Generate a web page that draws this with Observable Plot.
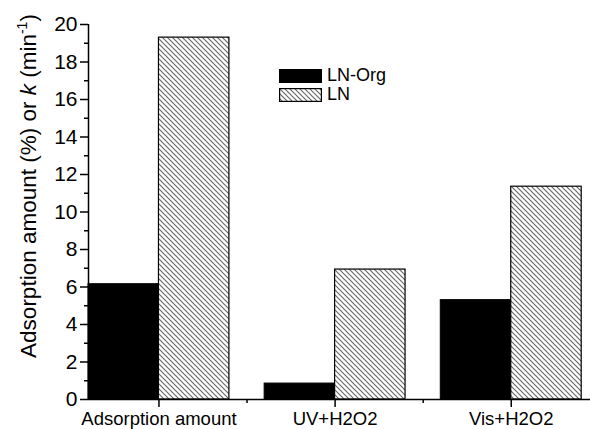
<!DOCTYPE html>
<html>
<head>
<meta charset="utf-8">
<script src="https://cdn.jsdelivr.net/npm/d3@7"></script>
<script src="https://cdn.jsdelivr.net/npm/@observablehq/plot@0.6"></script>
<style>
  body { margin: 0; background: #fff; }
  #chart { position: relative; width: 590px; height: 429px; font-family: Arial, "Liberation Sans", sans-serif; color: #000; }
  #legend { position: absolute; left: 279px; top: 66px; font-size: 18px; line-height: 19px; }
  #legend .row { display: flex; align-items: center; height: 19px; }
  #legend svg { margin-right: 5px; }
</style>
</head>
<body>
<div id="chart"></div>
<script>
// Treatments along the x axis
const categories = ["Adsorption amount", "UV+H2O2", "Vis+H2O2"];
// Series names
const seriesNames = ["LN-Org", "LN"];
// Adsorption amount (%) or rate constant k (min^-1)
const lnOrgValues = [6.15, 0.85, 5.3];
const lnValues = [19.3, 6.93, 11.35];
// Axis ticks
const yMajorTicks = [0, 2, 4, 6, 8, 10, 12, 14, 16, 18, 20];
const yMinorTicks = [1, 3, 5, 7, 9, 11, 13, 15, 17, 19];
const xMajorTicks = [1, 2, 3];
const xMinorTicks = [1.5, 2.5];

const barWidth = 0.4;
const xDomain = [0.6, 3.45];

const rows = categories.map((c, i) => ({
  category: c,
  pos: i + 1,
  lnOrg: lnOrgValues[i],
  ln: lnValues[i]
}));

const chart = Plot.plot({
  width: 590,
  height: 429,
  marginLeft: 88,
  marginRight: 0,
  marginTop: 24,
  marginBottom: 30,
  style: { fontFamily: "Arial, 'Liberation Sans', sans-serif", background: "#fff", color: "#000" },
  x: { type: "linear", domain: xDomain },
  y: { domain: [0, 20] },
  marks: [
    // LN-Org: solid black bars on the left of each group
    Plot.rectY(rows, { x1: d => d.pos - barWidth, x2: d => d.pos, y: "lnOrg", fill: "#000", stroke: "#000", strokeWidth: 1 }),
    // LN: hatched bars on the right of each group
    Plot.rectY(rows, { x1: d => d.pos, x2: d => d.pos + barWidth, y: "ln", fill: "url(#hatch)", stroke: "#000", strokeWidth: 1.2 }),
    // axis lines
    Plot.ruleX([xDomain[0]], { stroke: "#000", strokeWidth: 1.5 }),
    Plot.ruleY([0], { stroke: "#000", strokeWidth: 1.5 }),
    // y axis
    Plot.axisY(yMajorTicks, { tickSize: 8, tickPadding: 3, fontSize: 21, strokeWidth: 1.5, label: null }),
    Plot.axisY(yMinorTicks, { tickSize: 4, strokeWidth: 1.5, tickFormat: () => "", label: null }),
    // x axis
    Plot.axisX(xMajorTicks, { tickSize: 8, tickPadding: 4, fontSize: 18.5, strokeWidth: 1.5, tickFormat: d => categories[d - 1], label: null }),
    Plot.axisX(xMinorTicks, { tickSize: 4, strokeWidth: 1.5, tickFormat: () => "", label: null })
  ]
});

const svg = d3.select(chart);
// diagonal hatch used by the LN bars and its legend swatch
const defs = svg.insert("defs", ":first-child");
defs.append("pattern")
  .attr("id", "hatch")
  .attr("patternUnits", "userSpaceOnUse")
  .attr("width", 5)
  .attr("height", 5)
  .call(p => p.append("rect").attr("width", 5).attr("height", 5).attr("fill", "#fff"))
  .append("path")
  .attr("d", "M-1,-1L6,6M-1,4L1,6M4,-1L6,1")
  .attr("stroke", "#6a6a6a")
  .attr("stroke-width", 1.2);

// y axis title with italic k and superscript
const title = svg.append("text")
  .attr("transform", "translate(36,186) rotate(-90)")
  .attr("text-anchor", "middle")
  .attr("font-size", 22.5)
  .attr("fill", "#000");
title.append("tspan").text("Adsorption amount (%) or ");
title.append("tspan").attr("font-style", "italic").text("k");
title.append("tspan").text(" (min");
title.append("tspan").attr("font-size", 14).attr("dy", -9).text("-1");
title.append("tspan").attr("dy", 9).text(")");

const container = document.getElementById("chart");
container.appendChild(chart);

// legend inside the plot area
const legend = document.createElement("div");
legend.id = "legend";
const swatchFills = ["#000", "url(#hatch)"];
seriesNames.forEach((name, i) => {
  const row = document.createElement("div");
  row.className = "row";
  row.innerHTML = `<svg width="43" height="14"><rect x="0.6" y="0.6" width="41.8" height="12.8" fill="${swatchFills[i]}" stroke="#000" stroke-width="1.2"></rect></svg><span>${name}</span>`;
  legend.appendChild(row);
});
container.appendChild(legend);
</script>
</body>
</html>
